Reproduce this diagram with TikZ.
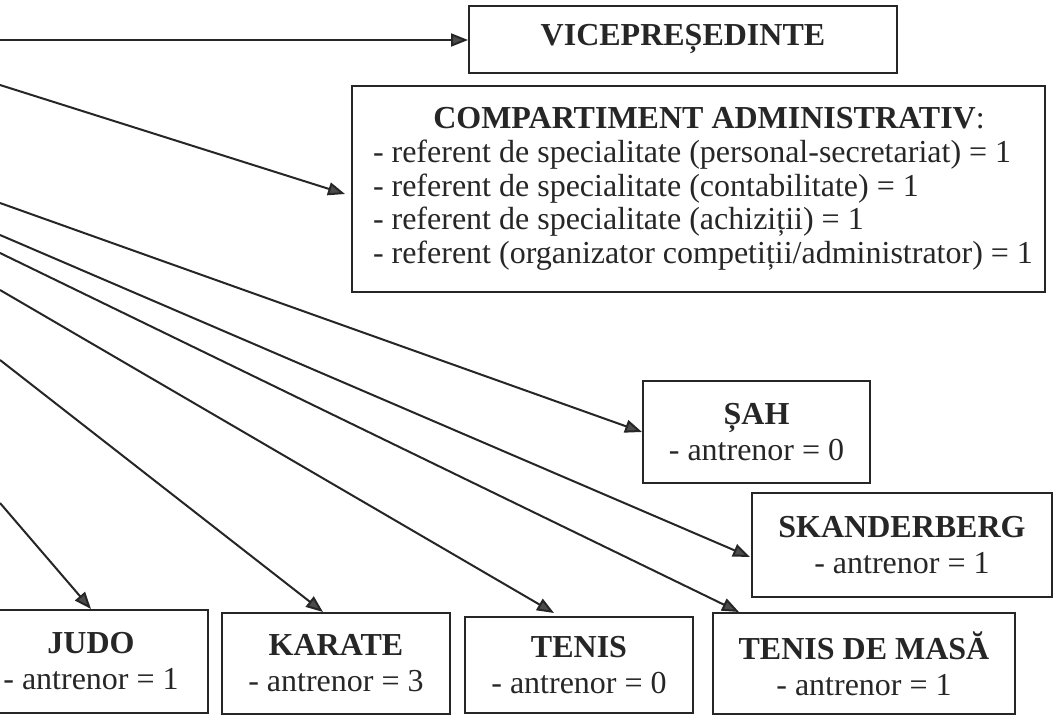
\documentclass[tikz,border=0pt]{standalone}
\usepackage{fontspec}
\setmainfont{Liberation Serif}
\usetikzlibrary{arrows.meta,calc}
\begin{document}
\begin{tikzpicture}[x=0.5pt,y=-0.5pt,
  box/.style={draw=black!85, line width=1pt, inner sep=0pt, align=center,
    font=\fontsize{16}{18}\selectfont, text=black!85},
  conn/.style={draw=black!85, line width=1pt,
    -{Triangle[length=8.5pt,width=6.5pt,fill=black!70]}},
]
\useasboundingbox (0,0) rectangle (1055,715);

\node[box, minimum width=214pt, minimum height=33.5pt] (vice) at (683,39.5) {\textbf{VICEPREȘEDINTE}};

\node[box, minimum width=346.5pt, minimum height=103pt, font=\fontsize{16}{16.8}\selectfont] (comp) at (698.5,189)
{\hspace*{10.5pt}\begin{minipage}{336pt}\centering\textbf{COMPARTIMENT ADMINISTRATIV}:\par\raggedright
\mbox{- referent de specialitate (personal-secretariat) = 1}\par
\mbox{- referent de specialitate (contabilitate) = 1}\par
\mbox{- referent de specialitate (achiziții) = 1}\par
\mbox{- referent (organizator competiții/administrator) = 1}\end{minipage}};

\node[box, minimum width=113.5pt, minimum height=51pt] (sah) at (756.5,432) {\textbf{ȘAH}\\- antrenor = 0};
\node[box, minimum width=150pt, minimum height=52pt] (skan) at (902,545) {\textbf{SKANDERBERG}\\- antrenor = 1};
\node[box, minimum width=151pt, minimum height=50.5pt] (tdm) at (864,663.5) {\textbf{TENIS DE MASĂ}\\- antrenor = 1};
\node[box, minimum width=114pt, minimum height=48pt] (tenis) at (579,665) {\textbf{TENIS}\\- antrenor = 0};
\node[box, minimum width=114pt, minimum height=50.5pt] (karate) at (336,663.5) {\textbf{KARATE}\\- antrenor = 3};
\node[box, minimum width=117pt, minimum height=51.5pt] (judo) at (91,661.5) {\textbf{JUDO}\\- antrenor = 1};

\coordinate (a1) at (0,40);
\coordinate (a2) at (0,85);
\coordinate (a3) at (0,203);
\coordinate (a4) at (0,235);
\coordinate (a5) at (0,253);
\coordinate (a6) at (0,290);
\coordinate (a7) at (0,360);
\coordinate (a8) at (0,503);

\draw[conn] (a1) -- (a1 -| vice.west);
\draw[conn] (a2) -- ($(comp.west)+(-6,5)$);
\draw[conn] (a3) -- (sah.west);
\draw[conn] (a4) -- ($(skan.west)+(-1,12)$);
\draw[conn] (a5) -- ($(tdm.north west)+(27,0)$);
\draw[conn] (a6) -- ($(tenis.north west)+(90,-3)$);
\draw[conn] (a7) -- ($(karate.north)+(-13,0)$);
\draw[conn] (a8) -- (judo.north);
\end{tikzpicture}
\end{document}
